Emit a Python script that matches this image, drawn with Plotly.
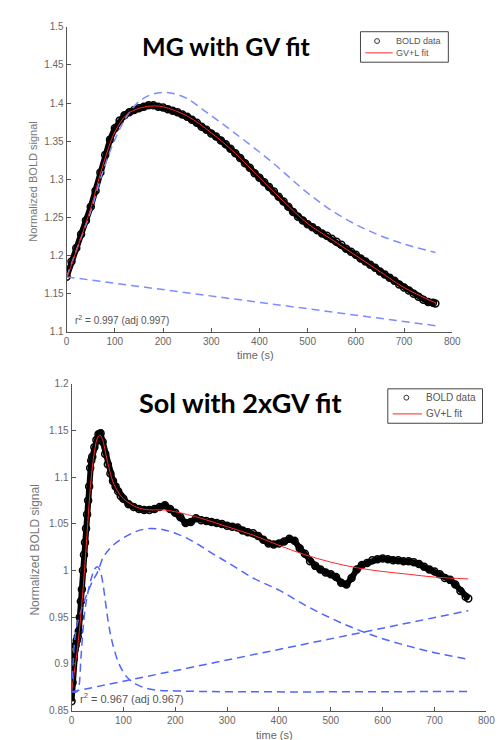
import plotly.graph_objects as go

# ---------------- MG (top) ----------------
t_mg = [0, 10, 20, 30, 40, 50, 60, 70, 80, 90, 100, 110, 120, 130, 140, 150, 160, 170, 180, 190,
        200, 210, 220, 230, 240, 250, 260, 270, 280, 290, 300, 310, 320, 330, 340, 350, 360, 370,
        380, 390, 400, 410, 420, 430, 440, 450, 460, 470, 480, 490, 500, 510, 520, 530, 540, 550,
        560, 570, 580, 590, 600, 610, 620, 630, 640, 650, 660, 670, 680, 690, 700, 710, 720, 730,
        740, 750, 760, 765]
bold_mg = [1.172, 1.192, 1.210, 1.228, 1.246, 1.264, 1.285, 1.309, 1.332, 1.352, 1.367, 1.377,
           1.384, 1.388, 1.391, 1.393, 1.395, 1.397, 1.397, 1.395, 1.394, 1.392, 1.390, 1.388,
           1.385, 1.382, 1.378, 1.374, 1.369, 1.365, 1.360, 1.356, 1.351, 1.346, 1.340, 1.334,
           1.328, 1.321, 1.315, 1.308, 1.302, 1.296, 1.290, 1.284, 1.277, 1.271, 1.264, 1.257,
           1.251, 1.246, 1.241, 1.237, 1.233, 1.229, 1.226, 1.222, 1.218, 1.214, 1.209, 1.205,
           1.201, 1.196, 1.192, 1.188, 1.184, 1.179, 1.175, 1.171, 1.167, 1.162, 1.158, 1.154,
           1.150, 1.146, 1.142, 1.139, 1.138, 1.137]

t_mg_fit = [0, 25, 50, 75, 100, 125, 150, 175, 200, 250, 300, 350, 400, 450, 500, 550, 600, 650, 700, 765]
fit_mg = [1.170, 1.215, 1.262, 1.318, 1.362, 1.385, 1.393, 1.396, 1.395, 1.383, 1.361, 1.334,
          1.302, 1.271, 1.242, 1.221, 1.200, 1.179, 1.158, 1.138]

t_mg_gv = [0, 25, 50, 75, 100, 125, 150, 175, 200, 225, 250, 290, 350, 425, 500, 560, 625, 695, 765]
gv_mg = [1.172, 1.215, 1.258, 1.310, 1.352, 1.383, 1.402, 1.411, 1.414, 1.412, 1.406, 1.388,
         1.360, 1.323, 1.282, 1.255, 1.233, 1.216, 1.204]

t_mg_lin = [0, 765]
lin_mg = [1.172, 1.108]

# ---------------- Sol (bottom) ----------------
t_sol = [0, 2, 4, 6, 8, 10, 12, 14, 16, 18, 20, 22, 24, 26, 28, 30, 32, 34, 36, 38, 40, 44, 48,
         52, 56, 60, 65, 70, 75, 80, 85, 90, 95, 100, 110, 120, 130, 140, 150, 160, 170, 180, 190,
         200, 210, 220, 230, 240, 250, 260, 270, 280, 290, 300, 310, 320, 330, 340, 350, 360, 370,
         380, 390, 400, 410, 420, 430, 440, 450, 460, 470, 480, 490, 500, 510, 520, 530, 540, 550,
         560, 570, 580, 590, 600, 610, 620, 630, 640, 650, 660, 670, 680, 690, 700, 710, 720, 730,
         740, 750, 760, 765]
bold_sol = [0.860, 0.880, 0.905, 0.915, 0.920, 0.925, 0.929, 0.935, 0.950, 0.967, 0.980, 1.000,
            1.017, 1.030, 1.045, 1.060, 1.075, 1.090, 1.110, 1.118, 1.122, 1.132, 1.140, 1.146,
            1.147, 1.138, 1.125, 1.114, 1.104, 1.096, 1.090, 1.085, 1.080, 1.077, 1.071, 1.068,
            1.066, 1.065, 1.065, 1.066, 1.068, 1.070, 1.066, 1.062, 1.057, 1.051, 1.052, 1.056,
            1.054, 1.053, 1.052, 1.051, 1.050, 1.048, 1.047, 1.046, 1.043, 1.041, 1.040, 1.037,
            1.033, 1.029, 1.028, 1.029, 1.031, 1.034, 1.032, 1.024, 1.018, 1.010, 1.005, 1.001,
            0.998, 0.996, 0.993, 0.987, 0.985, 0.992, 1.001, 1.006, 1.008, 1.011, 1.012, 1.013,
            1.012, 1.011, 1.011, 1.010, 1.010, 1.009, 1.007, 1.004, 1.001, 0.999, 0.996, 0.992,
            0.990, 0.985, 0.978, 0.972, 0.970]

t_sol_fit = [0, 5, 10, 15, 20, 25, 30, 35, 40, 45, 50, 55, 60, 65, 70, 80, 90, 100, 125, 150,
             175, 200, 250, 300, 350, 400, 450, 500, 550, 600, 650, 700, 765]
fit_sol = [0.870, 0.890, 0.910, 0.935, 0.965, 1.000, 1.040, 1.080, 1.110, 1.130, 1.142, 1.145,
           1.140, 1.128, 1.115, 1.095, 1.084, 1.077, 1.068, 1.065, 1.065, 1.063, 1.056, 1.047,
           1.038, 1.027, 1.017, 1.009, 1.003, 0.999, 0.996, 0.993, 0.991]

t_sol_gv1 = [0, 10, 14, 18, 22, 26, 30, 35, 40, 45, 50, 55, 60, 65, 70, 75, 80, 90, 100, 110,
             125, 150, 200, 765]
gv1_sol = [0.870, 0.870, 0.875, 0.905, 0.935, 0.958, 0.972, 0.985, 0.995, 1.002, 1.004, 1.000,
           0.988, 0.968, 0.948, 0.932, 0.920, 0.902, 0.891, 0.884, 0.878, 0.873, 0.871, 0.8705]

t_sol_gv2 = [0, 3, 6, 10, 20, 30, 40, 50, 62, 80, 100, 125, 150, 175, 200, 225, 250, 275, 300,
             350, 400, 450, 500, 550, 600, 650, 700, 765]
gv2_sol = [0.870, 0.900, 0.925, 0.940, 0.960, 0.975, 0.988, 0.998, 1.015, 1.027, 1.035, 1.042,
           1.045, 1.044, 1.040, 1.034, 1.026, 1.017, 1.009, 0.992, 0.979, 0.963, 0.949, 0.937,
           0.927, 0.919, 0.912, 0.905]

t_sol_lin = [0, 765]
lin_sol = [0.870, 0.957]

ticks_x = [0, 100, 200, 300, 400, 500, 600, 700, 800]
ticks_y_mg = [1.1, 1.15, 1.2, 1.25, 1.3, 1.35, 1.4, 1.45, 1.5]
ticktext_y_mg = ["1.1", "1.15", "1.2", "1.25", "1.3", "1.35", "1.4", "1.45", "1.5"]
ticks_y_sol = [0.85, 0.9, 0.95, 1.0, 1.05, 1.1, 1.15, 1.2]
ticktext_y_sol = ["0.85", "0.9", "0.95", "1", "1.05", "1.1", "1.15", "1.2"]

legend_labels = ["BOLD data", "GV+L fit"]

BLUE_TOP = "rgb(125,140,255)"
BLUE_BOT = "rgb(80,100,255)"
RED = "rgb(255,40,40)"
DASH = "8px,5px"
FONT = "Liberation Sans, Arial"

fig = go.Figure()

def add_panel(xa, ya, t, d, tf, f, comps, blue):
    fig.add_trace(go.Scatter(x=t, y=d, mode="lines", xaxis=xa, yaxis=ya,
                             line=dict(color="black", width=6), showlegend=False, hoverinfo="skip"))
    fig.add_trace(go.Scatter(x=t, y=d, mode="markers", xaxis=xa, yaxis=ya, name=legend_labels[0],
                             showlegend=False,
                             marker=dict(symbol="circle-open", size=7, color="black",
                                         line=dict(width=1.5, color="black"))))
    for ct, cv in comps:
        fig.add_trace(go.Scatter(x=ct, y=cv, mode="lines", xaxis=xa, yaxis=ya, showlegend=False,
                                 line=dict(color=blue, width=1.5, dash=DASH, shape="spline")))
    fig.add_trace(go.Scatter(x=tf, y=f, mode="lines", xaxis=xa, yaxis=ya, name=legend_labels[1],
                             showlegend=False, line=dict(color=RED, width=1, shape="spline")))

add_panel("x", "y", t_mg, bold_mg, t_mg_fit, fit_mg,
          [(t_mg_gv, gv_mg), (t_mg_lin, lin_mg)], BLUE_TOP)
add_panel("x2", "y2", t_sol, bold_sol, t_sol_fit, fit_sol,
          [(t_sol_gv1, gv1_sol), (t_sol_gv2, gv2_sol), (t_sol_lin, lin_sol)], BLUE_BOT)

axis_common = dict(showgrid=False, zeroline=False, showline=True, linecolor="#555", linewidth=1,
                   ticks="inside", ticklen=4, tickcolor="#555",
                   tickfont=dict(family=FONT, size=10, color="#666"))

W, H = 504, 740
def px(x):
    return x / W
def py(y):
    return 1 - y / H

fig.update_layout(
    width=W, height=H, margin=dict(l=0, r=0, t=0, b=0), showlegend=False,
    paper_bgcolor="white", plot_bgcolor="white",
    xaxis=dict(domain=[px(57), px(452)], range=[0, 800], tickvals=ticks_x, anchor="y",
               **axis_common),
    yaxis=dict(domain=[py(323), py(13)], range=[1.1, 1.5], tickvals=ticks_y_mg,
               ticktext=ticktext_y_mg, anchor="x", **axis_common),
    xaxis2=dict(domain=[px(62), px(487)], range=[0, 800], tickvals=ticks_x, anchor="y2",
                **axis_common),
    yaxis2=dict(domain=[py(708), py(376)], range=[0.85, 1.2], tickvals=ticks_y_sol,
                ticktext=ticktext_y_sol, anchor="x2", **axis_common),
)

shapes = []
annotations = []

def legend_box(x0, y0, x1, y1, cx, r1, r2, lx0, lx1, tx, fsize):
    shapes.append(dict(type="rect", xref="paper", yref="paper", x0=px(x0), x1=px(x1),
                       y0=py(y1), y1=py(y0), line=dict(color="#444", width=1),
                       fillcolor="white", layer="above"))
    shapes.append(dict(type="circle", xref="paper", yref="paper", x0=px(cx - 2.5), x1=px(cx + 2.5),
                       y0=py(r1 + 2.5), y1=py(r1 - 2.5), line=dict(color="#333", width=1),
                       layer="above"))
    shapes.append(dict(type="line", xref="paper", yref="paper", x0=px(lx0), x1=px(lx1),
                       y0=py(r2), y1=py(r2), line=dict(color=RED, width=1), layer="above"))
    for lab, ry in zip(legend_labels, [r1, r2]):
        annotations.append(dict(text=lab, x=px(tx), y=py(ry), xref="paper", yref="paper",
                                xanchor="left", yanchor="middle", showarrow=False,
                                font=dict(family=FONT, size=fsize, color="#555")))

legend_box(358, 18, 448, 49, 375, 27.5, 39.5, 363, 391, 392, 9)
legend_box(386, 381, 483, 416, 405, 390, 406.5, 391, 421, 423, 10)

def ann(text, x, y, size, color="#555", family=FONT, angle=0, xanchor="center"):
    annotations.append(dict(text=text, x=px(x), y=py(y), xref="paper", yref="paper",
                            xanchor=xanchor, yanchor="middle", textangle=angle, showarrow=False,
                            font=dict(family=family, size=size, color=color)))

ann("<b>MG with GV fit</b>", 221, 33, 25, "black", "Lato")
ann("<b>Sol with 2xGV fit</b>", 235, 395, 27, "black", "Lato")
ann("r<sup>2</sup> = 0.997 (adj 0.997)", 63, 311, 10, xanchor="left")
ann("r<sup>2</sup> = 0.967 (adj 0.967)", 69, 695, 11, xanchor="left")
ann("Normalized BOLD signal", 23, 170, 11, "#777", angle=-90)
ann("Normalized BOLD signal", 25, 545, 12, "#777", angle=-90)
ann("time (s)", 250, 347, 11, "#666")
ann("time (s)", 270, 733, 11, "#666")

fig.update_layout(shapes=shapes, annotations=annotations)

fig.write_html("out.html")
